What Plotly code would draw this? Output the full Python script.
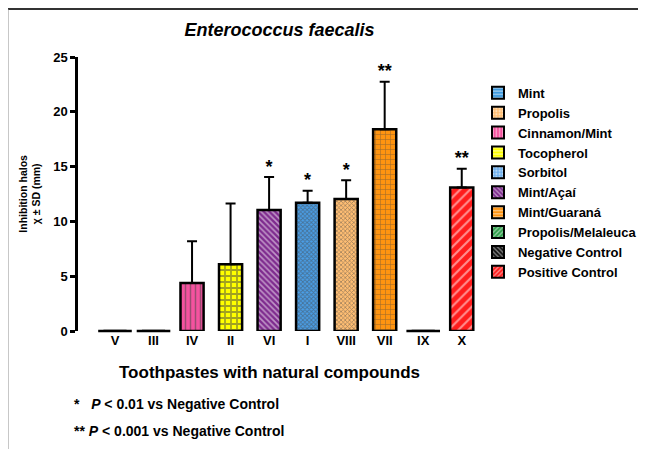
import plotly.graph_objects as go

# ---- data ----
categories = ["V", "III", "IV", "II", "VI", "I", "VIII", "VII", "IX", "X"]
means = [0, 0, 4.38, 6.09, 11.05, 11.7, 12.05, 18.4, 0, 13.1]
sds = [0, 0, 3.8, 5.55, 3.0, 1.1, 1.7, 4.35, 0, 1.7]
signif = ["", "", "", "", "*", "*", "*", "**", "", "**"]

bar_colors = ["#4aa0e6", "#2e9e4a", "#f5529f", "#ffff00", "#7e2b8e", "#4a9fe8",
              "#ffbe73", "#ff9410", "#111111", "#ff1c1c"]
bar_patterns = ["-", "/", "|", "+", "\\", "x", "x", "+", "\\", "/"]
bar_sizes = [5, 6, 5, 6, 4, 3, 3, 5, 6, 7]
bar_solidity = [0.3, 0.3, 0.3, 0.5, 0.4, 0.5, 0.45, 0.22, 0.3, 0.3]

legend_names = ["Mint", "Propolis", "Cinnamon/Mint", "Tocopherol", "Sorbitol",
                "Mint/Açaí", "Mint/Guaraná", "Propolis/Melaleuca",
                "Negative Control", "Positive Control"]
legend_colors = ["#3f9be0", "#ffbe73", "#f5529f", "#ffff00", "#6fb0ee",
                 "#7e2b8e", "#ff9410", "#2e9e4a", "#111111", "#ff1c1c"]
legend_patterns = ["-", ".", "|", "-", ".", "\\", "-", "/", "\\", "/"]

FONT = "Liberation Sans, Arial, sans-serif"

fig = go.Figure()

# main bars
fig.add_trace(go.Bar(
    x=categories, y=means, width=0.6, showlegend=False,
    marker=dict(color=bar_colors, line=dict(color="black", width=2.5),
                pattern=dict(shape=bar_patterns, fgcolor="white", size=bar_sizes,
                             solidity=bar_solidity, fillmode="overlay")),
    error_y=dict(type="data", array=sds, arrayminus=[0] * len(sds),
                 symmetric=False, color="black", thickness=2, width=5),
))

# zero-height bars drawn as flat lines
zero_x = [c for c, m in zip(categories, means) if m == 0]
zero_y = [m for m in means if m == 0]
fig.add_trace(go.Scatter(
    x=zero_x, y=zero_y, mode="markers", showlegend=False, cliponaxis=False,
    marker=dict(symbol="line-ew", size=24, line=dict(color="black", width=2.5)),
    hoverinfo="skip"))

# significance stars
fig.add_trace(go.Scatter(
    x=categories, y=[m + s for m, s in zip(means, sds)], mode="text",
    text=signif, textposition="top center", showlegend=False, cliponaxis=False,
    textfont=dict(family=FONT, size=18, color="black", weight="bold")))

# legend entries
for name, col, pat in zip(legend_names, legend_colors, legend_patterns):
    fig.add_trace(go.Bar(
        x=[None], y=[None], name=name,
        marker=dict(color=col, line=dict(color="black", width=2),
                    pattern=dict(shape=pat, fgcolor="white", size=4,
                                 solidity=0.4, fillmode="overlay"))))

fig.update_layout(
    width=638, height=441,
    margin=dict(l=70, r=165, t=49, b=118, autoexpand=False),
    paper_bgcolor="white", plot_bgcolor="white",
    barmode="overlay",
    font=dict(family=FONT, color="black"),
    title=dict(text="<b><i>Enterococcus faecalis</i></b>", x=0.5, xref="paper",
               xanchor="center", y=0.95, yref="container", yanchor="middle",
               font=dict(size=18, family=FONT, color="black")),
    showlegend=True,
    legend=dict(x=0.9925, y=0.924, xanchor="left", yanchor="top",
                font=dict(family=FONT, size=13, color="black", weight="bold"),
                bgcolor="rgba(0,0,0,0)", itemclick=False),
    xaxis=dict(type="category", range=[-0.96, 9.5], showline=False, ticks="",
               showgrid=False, zeroline=False, automargin=False,
               tickfont=dict(family=FONT, size=13, color="black", weight="bold")),
    yaxis=dict(range=[0, 25], dtick=5, showline=True, linewidth=2.5,
               linecolor="black", ticks="outside", ticklen=5, tickwidth=2.5,
               tickcolor="black", showgrid=False, zeroline=False, automargin=False,
               tickfont=dict(family=FONT, size=13, color="black", weight="bold")),
    annotations=[
        dict(text="<b>Inhibition halos<br>χ ± SD (mm)</b>", xref="paper", yref="paper",
             x=-0.12, y=0.5, xanchor="center", yanchor="middle", textangle=-90,
             showarrow=False, font=dict(family=FONT, size=10.5, color="black")),
        dict(text="<b>Toothpastes with natural compounds</b>", xref="paper", yref="paper",
             x=0.474, y=-0.153, xanchor="center", yanchor="middle", showarrow=False,
             font=dict(family=FONT, size=17, color="black")),
        dict(text="<b>*   <i>P</i> &lt; 0.01 vs Negative Control</b>", xref="paper",
             yref="paper", x=-0.015, y=-0.266, xanchor="left", yanchor="middle",
             showarrow=False, font=dict(family=FONT, size=14, color="black")),
        dict(text="<b>** <i>P</i> &lt; 0.001 vs Negative Control</b>", xref="paper",
             yref="paper", x=-0.015, y=-0.365, xanchor="left", yanchor="middle",
             showarrow=False, font=dict(family=FONT, size=14, color="black")),
    ],
    shapes=[
        dict(type="line", xref="paper", yref="paper", x0=-0.175, x1=1.42,
             y0=1.175, y1=1.175, line=dict(color="#333333", width=2)),
        dict(type="line", xref="paper", yref="paper", x0=-0.175, x1=-0.175,
             y0=1.175, y1=-0.45, line=dict(color="#8a8a8a", width=2)),
    ],
)

fig.write_html("out.html")
